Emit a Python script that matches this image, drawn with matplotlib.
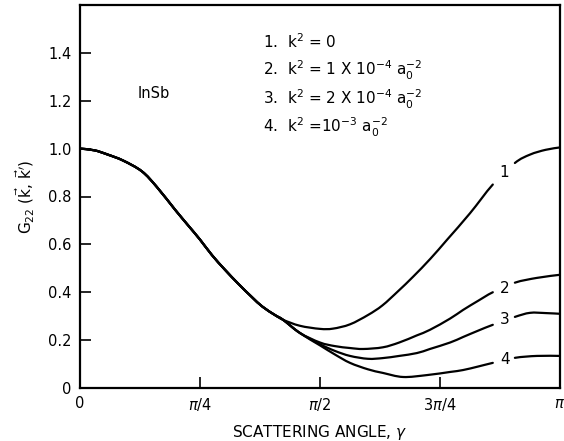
import numpy as np
import matplotlib
matplotlib.use("Agg")
import matplotlib.pyplot as plt
from matplotlib.path import Path
from matplotlib.patches import PathPatch

# scattering angle in units of pi
shared_pos = [0.0, 0.03, 0.058, 0.09, 0.129, 0.16, 0.198, 0.225, 0.25, 0.275,
              0.302, 0.33, 0.358, 0.38, 0.406, 0.423]
shared_g = [1.0, 0.993, 0.975, 0.95, 0.905, 0.84, 0.745, 0.68, 0.62, 0.555,
            0.494, 0.435, 0.38, 0.34, 0.305, 0.285]

# curve 1: k^2 = 0
c1_pos = [0.458, 0.5, 0.527, 0.5625, 0.6, 0.63, 0.663, 0.694, 0.73,
          0.765, 0.8125, 0.86, 0.906, 0.9375, 0.97, 1.0]
c1_g = [0.26, 0.247, 0.248, 0.266, 0.305, 0.345, 0.405, 0.465, 0.54,
        0.62, 0.73, 0.85, 0.94, 0.975, 0.995, 1.005]

# curve 2: k^2 = 1e-4
c2_pos = [0.458, 0.5, 0.531, 0.5625, 0.59, 0.631, 0.665, 0.702, 0.729,
          0.771, 0.798, 0.83, 0.86, 0.906, 0.952, 1.0]
c2_g = [0.23, 0.19, 0.175, 0.167, 0.163, 0.17, 0.19, 0.22, 0.243,
        0.29, 0.326, 0.365, 0.40, 0.44, 0.46, 0.473]

# curve 3: k^2 = 2e-4
c3_pos = [0.458, 0.5, 0.531, 0.5625, 0.6, 0.631, 0.665, 0.702, 0.729,
          0.771, 0.798, 0.83, 0.86, 0.906, 0.9375, 0.97, 1.0]
c3_g = [0.23, 0.183, 0.155, 0.134, 0.122, 0.125, 0.134, 0.146, 0.163,
        0.19, 0.213, 0.24, 0.264, 0.297, 0.314, 0.313, 0.31]

# curve 4: k^2 = 1e-3
c4_pos = [0.458, 0.5, 0.531, 0.5625, 0.6, 0.631, 0.673, 0.723, 0.771,
          0.798, 0.83, 0.86, 0.906, 0.952, 1.0]
c4_g = [0.23, 0.178, 0.14, 0.105, 0.078, 0.063, 0.046, 0.054, 0.067,
        0.075, 0.09, 0.105, 0.126, 0.134, 0.134]

curve_labels = ["1", "2", "3", "4"]
label_pos = [0.883, 0.885, 0.885, 0.885]
label_g = [0.90, 0.414, 0.285, 0.117]

legend_lines = [r"1.  k$^2$ = 0",
                r"2.  k$^2$ = 1 X 10$^{-4}$ $\mathregular{a_0^{-2}}$",
                r"3.  k$^2$ = 2 X 10$^{-4}$ $\mathregular{a_0^{-2}}$",
                r"4.  k$^2$ =10$^{-3}$ $\mathregular{a_0^{-2}}$"]

x_ticks = [0, 0.25, 0.5, 0.75, 1.0]
x_ticklabels = ["0", r"$\pi$/4", r"$\pi$/2", r"3$\pi$/4", r"$\pi$"]
y_ticks = [0, 0.2, 0.4, 0.6, 0.8, 1.0, 1.2, 1.4]
y_ticklabels = ["0", "0.2", "0.4", "0.6", "0.8", "1.0", "1.2", "1.4"]

plt.rcParams['font.family'] = ['DejaVu Sans']
plt.rcParams['mathtext.fontset'] = 'dejavusans'


def smooth_path(xs, ys, skip_x=None):
    # catmull-rom through the read points, drawn as bezier segments
    p = np.column_stack([xs, ys])
    n = len(p)
    verts, codes = [], []
    pen_down = False
    for i in range(n - 1):
        a, b = p[i], p[i + 1]
        if skip_x is not None and a[0] < skip_x < b[0]:
            pen_down = False
            continue
        pa = p[i - 1] if i > 0 else a
        pb = p[i + 2] if i + 2 < n else b
        c1 = a + (b - pa) / 6.0
        c2 = b - (pb - a) / 6.0
        if not pen_down:
            verts.append(a)
            codes.append(Path.MOVETO)
            pen_down = True
        verts += [c1, c2, b]
        codes += [Path.CURVE4] * 3
    return Path(verts, codes)


fig = plt.figure(figsize=(5.64, 4.41), dpi=100)
ax = fig.add_axes([80 / 564, 53 / 441, 480 / 564, 383 / 441])

lw = 1.6
curves = [(c1_pos, c1_g), (c2_pos, c2_g), (c3_pos, c3_g), (c4_pos, c4_g)]
for (pos, g), lab, lp, lg in zip(curves, curve_labels, label_pos, label_g):
    xs = np.array(shared_pos + pos) * np.pi
    ys = np.array(shared_g + g)
    path = smooth_path(xs, ys, skip_x=lp * np.pi)
    ax.add_patch(PathPatch(path, facecolor='none', edgecolor='black', lw=lw,
                           capstyle='round', joinstyle='round'))
    ax.text(lp * np.pi, lg, lab, ha='center', va='center', fontsize=11)

ax.set_xlim(0, np.pi)
ax.set_ylim(0, 1.6)
ax.set_xticks(np.array(x_ticks) * np.pi)
ax.set_xticklabels(x_ticklabels)
ax.set_yticks(y_ticks)
ax.set_yticklabels(y_ticklabels)
ax.tick_params(direction='in', length=8, width=1.2, labelsize=10.5, pad=6)
for s in ax.spines.values():
    s.set_linewidth(1.6)

ax.set_xlabel(r"SCATTERING ANGLE, $\gamma$", fontsize=11, labelpad=7)
ax.set_ylabel(r"G$_{22}$ ($\vec{\mathrm{k}}$, $\vec{\mathrm{k}}'$)",
              fontsize=11, labelpad=8)

# texts placed in figure pixels (origin bottom-left)
ax.text(138, 441 - 93, "InSb", transform=None, fontsize=10.5, va='center')
for i, line in enumerate(legend_lines):
    y = 441 - (42 + 28.5 * i)
    ax.text(263, y, line, transform=None, fontsize=11, va='center')

fig.savefig("out.png", dpi=100)
